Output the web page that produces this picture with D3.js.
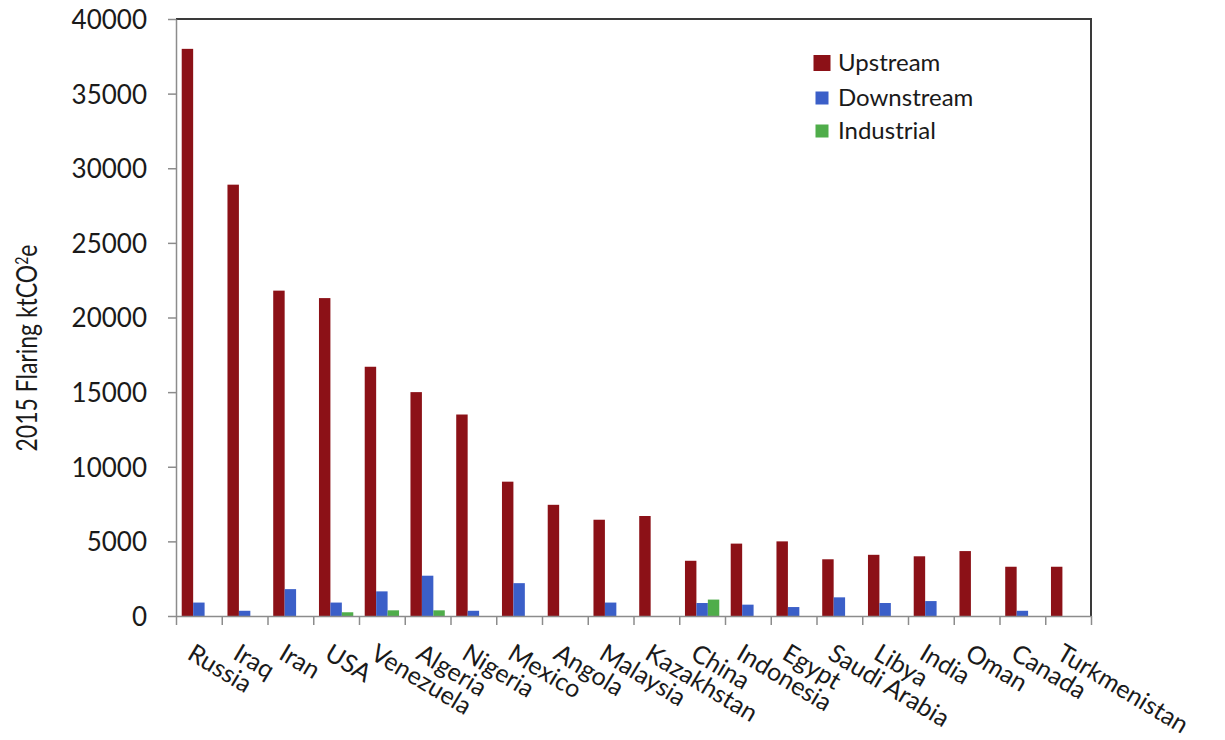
<!DOCTYPE html>
<html>
<head>
<meta charset="utf-8">
<script src="https://cdn.jsdelivr.net/npm/d3@7"></script>
<style>
  body { margin: 0; background: #fff; }
  text { font-family: Lato, "Open Sans", sans-serif; fill: #1a1a1a; }
</style>
</head>
<body>
<svg id="chart" width="1225" height="740"></svg>
<script>
var countries = ["Russia", "Iraq", "Iran", "USA", "Venezuela", "Algeria", "Nigeria", "Mexico",
  "Angola", "Malaysia", "Kazakhstan", "China", "Indonesia", "Egypt", "Saudi Arabia", "Libya",
  "India", "Oman", "Canada", "Turkmenistan"];
var upstream = [38000, 28900, 21800, 21300, 16700, 15000, 13500, 9000, 7450, 6450,
  6700, 3700, 4850, 5000, 3800, 4100, 4000, 4350, 3300, 3300];
var downstream = [900, 350, 1800, 900, 1650, 2700, 350, 2200, 0, 900,
  0, 870, 760, 600, 1250, 870, 1000, 0, 350, 0];
var industrial = [0, 0, 0, 250, 380, 380, 0, 0, 0, 0,
  0, 1100, 0, 0, 0, 0, 0, 0, 0, 0];
var seriesNames = ["Upstream", "Downstream", "Industrial"];
var yTicks = [0, 5000, 10000, 15000, 20000, 25000, 30000, 35000, 40000];

InitChart();

function InitChart() {
  var svg = d3.select("#chart"),
    LEFT = 176, RIGHT = 1091, TOP = 19, BASE = 616,
    colors = {Upstream: "#8c1117", Downstream: "#3b5fc8", Industrial: "#4fad4a"},
    values = {Upstream: upstream, Downstream: downstream, Industrial: industrial};

  svg.append("rect").attr("width", 1225).attr("height", 740).attr("fill", "#fff");

  var x = d3.scaleBand().domain(countries).range([LEFT, RIGHT]).padding(0);
  var bw = x.bandwidth();
  var xs = d3.scaleBand().domain(seriesNames).range([bw * 0.125, bw * 0.875]);
  var y = d3.scaleLinear().domain([0, 40000]).range([BASE, TOP]);

  // bars
  seriesNames.forEach(function(s) {
    var data = countries.map(function(c, i) { return {c: c, v: values[s][i]}; })
      .filter(function(d) { return d.v > 0; });
    svg.append("g").selectAll("rect")
      .data(data)
      .enter().append("rect")
      .attr("x", function(d) { return x(d.c) + xs(s); })
      .attr("width", xs.bandwidth())
      .attr("y", function(d) { return y(d.v); })
      .attr("height", function(d) { return BASE - y(d.v); })
      .attr("fill", colors[s]);
  });

  // top and right frame
  svg.append("path")
    .attr("d", "M" + LEFT + "," + TOP + "H" + RIGHT + "V" + BASE)
    .attr("fill", "none").attr("stroke", "#3a3a3a").attr("stroke-width", 2);

  // y axis
  var yAxis = d3.axisLeft(y).tickValues(yTicks).tickSize(8).tickSizeOuter(0)
    .tickPadding(21).tickFormat(d3.format("d"));
  var gy = svg.append("g").attr("transform", "translate(" + LEFT + ",0)").call(yAxis);
  gy.select(".domain").attr("stroke", "#8c8c8c").attr("stroke-width", 1.5);
  gy.selectAll(".tick line").attr("stroke", "#8c8c8c").attr("stroke-width", 1.5);
  gy.selectAll(".tick text").style("font-size", "26px").attr("dy", "0.36em");

  // x axis: tick marks between categories
  var xb = d3.scaleLinear().domain([0, countries.length]).range([LEFT, RIGHT]);
  var gxt = svg.append("g").attr("transform", "translate(0," + BASE + ")")
    .call(d3.axisBottom(xb).tickValues(d3.range(countries.length + 1)).tickSize(9)
      .tickSizeOuter(0).tickFormat(""));
  gxt.select(".domain").attr("stroke", "#8c8c8c").attr("stroke-width", 1.5);
  gxt.selectAll(".tick line").attr("stroke", "#8c8c8c").attr("stroke-width", 1.5);

  // x axis: rotated category labels
  var gx = svg.append("g").attr("transform", "translate(0," + BASE + ")")
    .call(d3.axisBottom(x).tickSize(0).tickSizeOuter(0));
  gx.select(".domain").remove();
  gx.selectAll(".tick text")
    .attr("y", null).attr("dy", null)
    .attr("text-anchor", "start")
    .attr("transform", "translate(-13,42) rotate(31)")
    .style("font-size", "25px");

  // y axis title
  var yt = svg.append("text")
    .attr("transform", "translate(37,348) scale(1.25,1) rotate(-90)")
    .attr("text-anchor", "middle")
    .style("font-size", "23px");
  yt.append("tspan").text("2015 Flaring ktCO");
  yt.append("tspan").attr("dy", "-7").style("font-size", "14px").text("2");
  yt.append("tspan").attr("dy", "7").text("e");

  // legend
  var legRows = [
    {name: "Upstream", base: 71, sw: 17, sh: 16},
    {name: "Downstream", base: 106, sw: 13, sh: 13},
    {name: "Industrial", base: 139, sw: 13, sh: 13}
  ];
  var lg = svg.append("g");
  legRows.forEach(function(r) {
    lg.append("rect")
      .attr("x", 822 - r.sw / 2).attr("y", r.base - 8 - r.sh / 2)
      .attr("width", r.sw).attr("height", r.sh)
      .attr("fill", colors[r.name]);
    lg.append("text")
      .attr("x", 838).attr("y", r.base)
      .style("font-size", "24px")
      .text(r.name);
  });
}
</script>
</body>
</html>
